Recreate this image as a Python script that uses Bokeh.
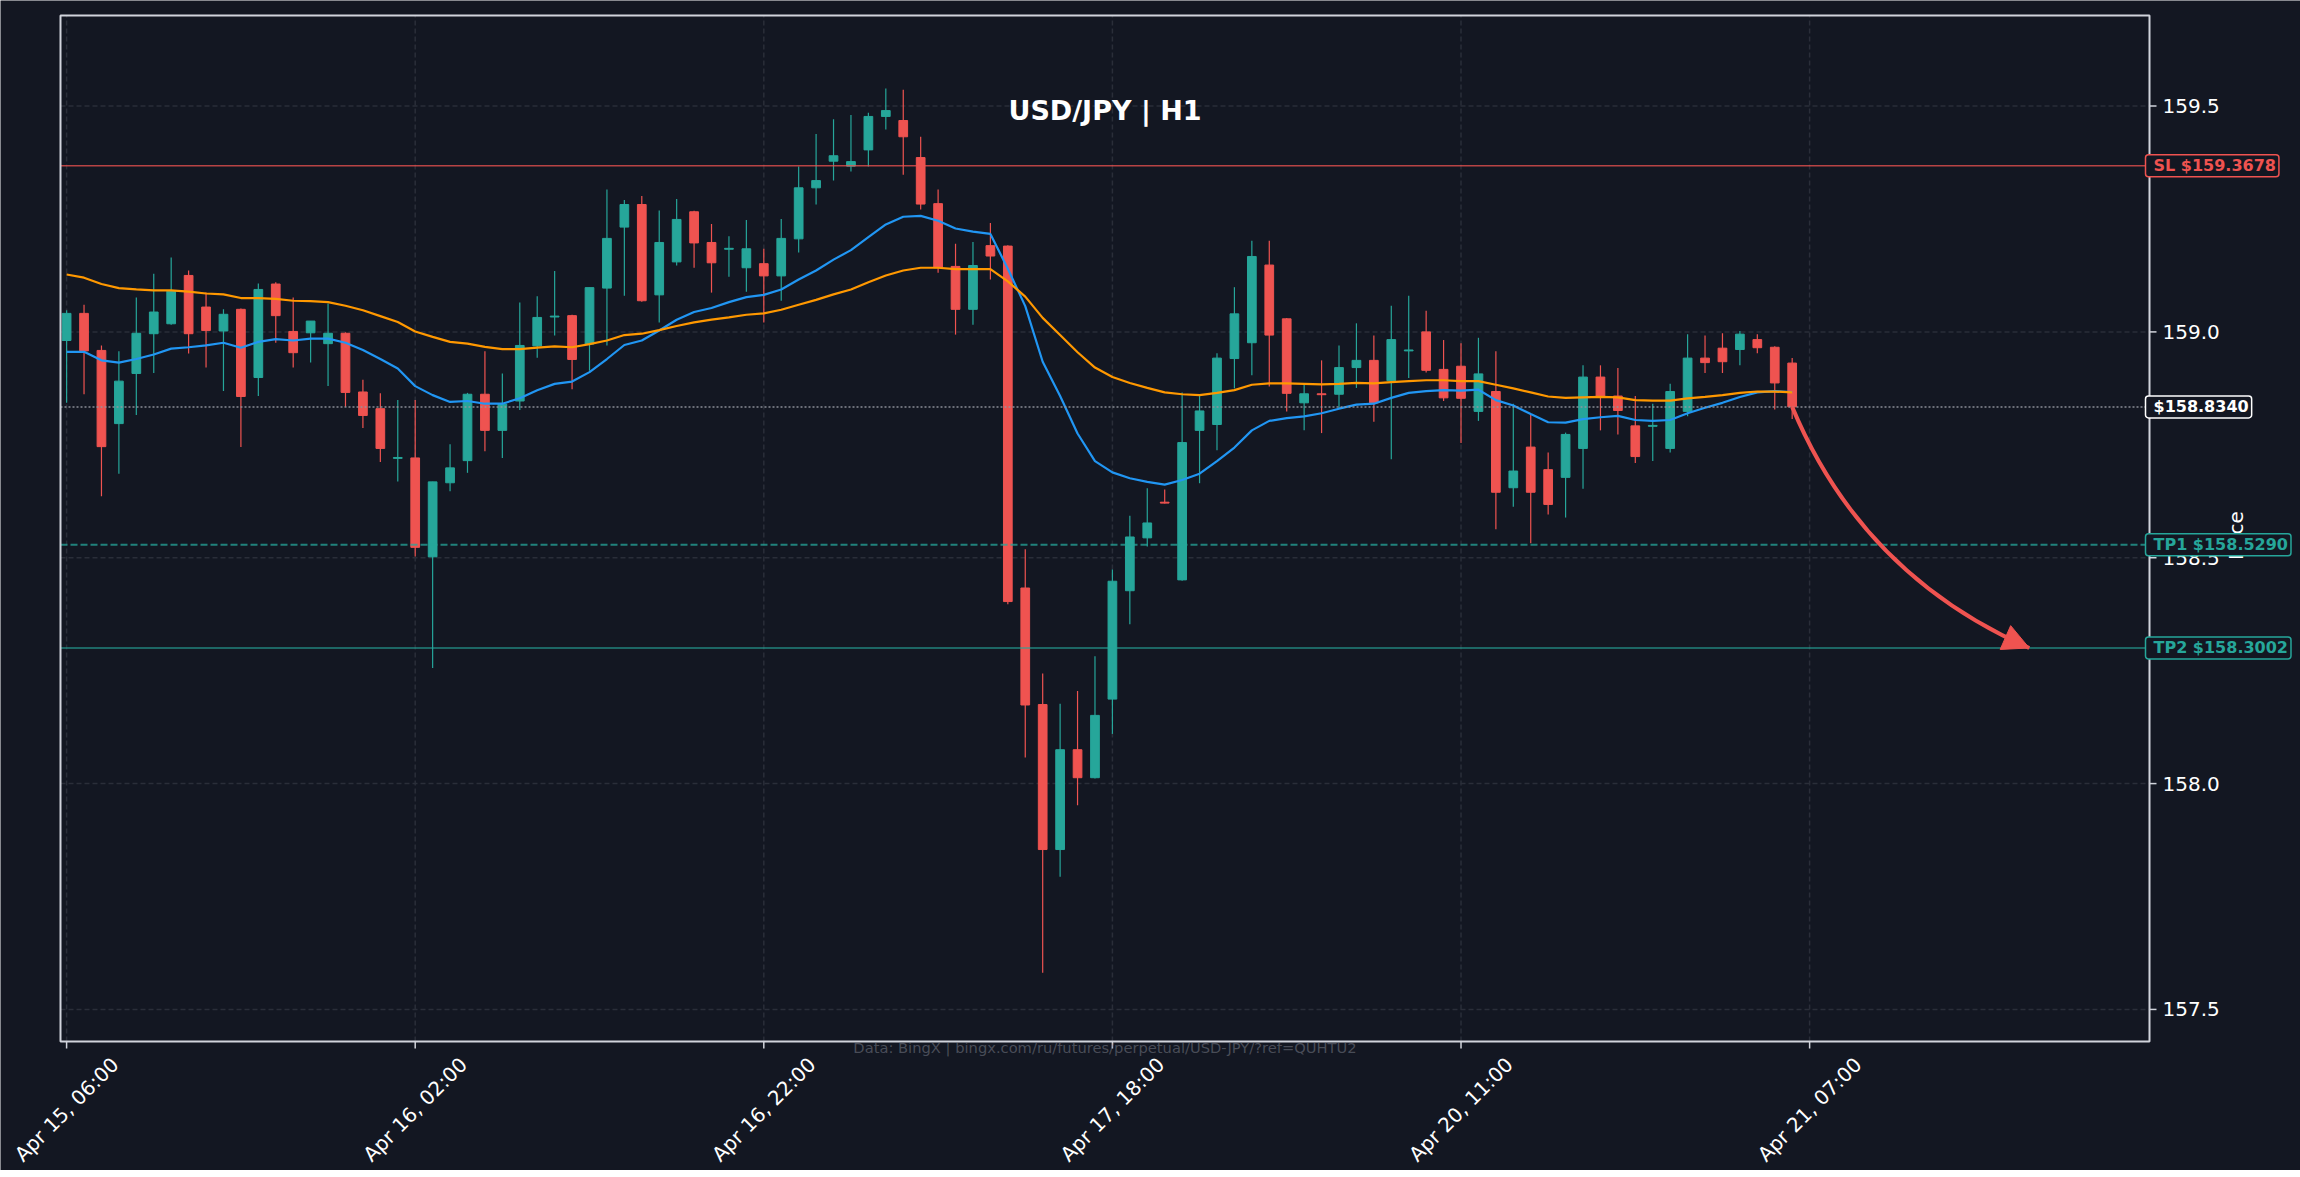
import math
from bokeh.plotting import figure
from bokeh.models import (ColumnDataSource, Range1d, Label, BoxAnnotation, Arrow, NormalHead)
from bokeh.embed import file_html
from bokeh.resources import INLINE

# ---------------- data ----------------
opens = [158.981, 159.041, 158.959, 158.797, 158.908, 158.996, 159.018, 159.125, 159.055, 159.002,
         159.050, 158.899, 159.106, 159.001, 158.998, 158.974, 158.997, 158.867, 158.830, 158.720,
         158.721, 158.502, 158.666, 158.715, 158.862, 158.782, 158.847, 158.969, 159.033, 159.036,
         158.973, 159.097, 159.232, 159.282, 159.082, 159.155, 159.266, 159.198, 159.183, 159.142,
         159.151, 159.124, 159.206, 159.319, 159.378, 159.367, 159.403, 159.477, 159.468, 159.386,
         159.284, 159.145, 159.050, 159.191, 159.190, 158.433, 158.175, 157.854, 158.075, 158.013,
         158.187, 158.427, 158.544, 158.623, 158.451, 158.782, 158.795, 158.941, 158.976, 159.148,
         159.029, 158.843, 158.863, 158.862, 158.921, 158.937, 158.892, 158.958, 159.000, 158.917,
         158.924, 158.824, 158.868, 158.655, 158.745, 158.695, 158.678, 158.742, 158.900, 158.858,
         158.792, 158.791, 158.742, 158.824, 158.942, 158.964, 158.961, 158.983, 158.966, 158.931]
highs = [159.048, 159.060, 158.970, 158.957, 159.076, 159.129, 159.165, 159.136, 159.087, 159.050,
         159.052, 159.107, 159.110, 159.076, 159.024, 159.063, 158.999, 158.894, 158.864, 158.849,
         158.849, 158.668, 158.751, 158.865, 158.957, 158.908, 159.065, 159.079, 159.135, 159.038,
         159.098, 159.315, 159.292, 159.301, 159.269, 159.294, 159.268, 159.239, 159.212, 159.248,
         159.184, 159.250, 159.366, 159.438, 159.471, 159.480, 159.485, 159.539, 159.536, 159.432,
         159.315, 159.195, 159.199, 159.241, 159.192, 158.519, 158.244, 158.177, 158.205, 158.282,
         158.474, 158.593, 158.654, 158.651, 158.866, 158.858, 158.953, 159.099, 159.202, 159.202,
         159.031, 158.883, 158.937, 158.970, 159.019, 158.992, 159.058, 159.080, 159.047, 158.982,
         158.975, 158.987, 158.957, 158.841, 158.817, 158.733, 158.777, 158.926, 158.926, 158.920,
         158.858, 158.841, 158.885, 158.995, 158.992, 158.997, 159.002, 158.995, 158.968, 158.942]
lows = [158.843, 158.862, 158.636, 158.686, 158.816, 158.909, 159.016, 158.952, 158.921, 158.869,
        158.745, 158.858, 158.976, 158.921, 158.932, 158.880, 158.834, 158.787, 158.712, 158.669,
        158.503, 158.256, 158.647, 158.688, 158.736, 158.721, 158.827, 158.943, 158.992, 158.873,
        158.914, 158.970, 159.080, 159.067, 159.021, 159.147, 159.142, 159.087, 159.122, 159.089,
        159.021, 159.069, 159.176, 159.282, 159.335, 159.355, 159.366, 159.448, 159.348, 159.271,
        159.131, 158.994, 159.016, 159.116, 158.397, 158.058, 157.581, 157.794, 157.952, 158.011,
        158.110, 158.353, 158.525, 158.620, 158.449, 158.665, 158.738, 158.875, 158.904, 158.879,
        158.824, 158.782, 158.776, 158.831, 158.876, 158.801, 158.718, 158.898, 158.910, 158.847,
        158.754, 158.803, 158.563, 158.613, 158.532, 158.596, 158.589, 158.653, 158.782, 158.773,
        158.710, 158.714, 158.733, 158.813, 158.909, 158.909, 158.926, 158.953, 158.828, 158.807]
closes = [159.041, 158.958, 158.746, 158.891, 158.997, 159.044, 159.090, 158.996, 159.003, 159.039,
          158.857, 159.094, 159.036, 158.954, 159.024, 158.997, 158.866, 158.815, 158.742, 158.722,
          158.523, 158.668, 158.699, 158.862, 158.782, 158.840, 158.970, 159.032, 159.035, 158.939,
          159.098, 159.207, 159.282, 159.069, 159.198, 159.249, 159.197, 159.153, 159.185, 159.184,
          159.124, 159.207, 159.319, 159.335, 159.390, 159.377, 159.477, 159.490, 159.432, 159.283,
          159.142, 159.050, 159.147, 159.168, 158.403, 158.174, 157.854, 158.075, 158.013, 158.151,
          158.448, 158.546, 158.577, 158.621, 158.755, 158.825, 158.942, 159.040, 159.167, 158.993,
          158.864, 158.863, 158.861, 158.921, 158.937, 158.843, 158.983, 158.960, 158.915, 158.854,
          158.853, 158.907, 158.645, 158.692, 158.645, 158.618, 158.773, 158.900, 158.858, 158.826,
          158.724, 158.793, 158.868, 158.942, 158.932, 158.934, 158.995, 158.965, 158.887, 158.834]
ma_fast = [158.956, 158.956, 158.937, 158.932, 158.940, 158.950, 158.963, 158.966, 158.970, 158.976,
           158.965, 158.978, 158.984, 158.981, 158.985, 158.985, 158.976, 158.960, 158.940, 158.919,
           158.880, 158.860, 158.845, 158.847, 158.841, 158.841, 158.853, 158.871, 158.885, 158.890,
           158.911, 158.940, 158.971, 158.981, 159.003, 159.027, 159.044, 159.053, 159.066, 159.077,
           159.082, 159.094, 159.116, 159.136, 159.160, 159.181, 159.210, 159.238, 159.255, 159.257,
           159.246, 159.229, 159.222, 159.217, 159.140, 159.057, 158.934, 158.858, 158.775, 158.714,
           158.689, 158.676, 158.668, 158.662, 158.672, 158.686, 158.714, 158.744, 158.782, 158.803,
           158.809, 158.813, 158.820, 158.830, 158.839, 158.841, 158.854, 158.865, 158.869, 158.871,
           158.870, 158.872, 158.849, 158.837, 158.818, 158.800, 158.799, 158.807, 158.811, 158.814,
           158.805, 158.803, 158.805, 158.820, 158.832, 158.843, 158.856, 158.866, 158.869, 158.867]
ma_slow = [159.127, 159.120, 159.106, 159.097, 159.094, 159.092, 159.092, 159.089, 159.085, 159.083,
           159.075, 159.075, 159.073, 159.069, 159.068, 159.066, 159.058, 159.048, 159.035, 159.022,
           159.001, 158.989, 158.978, 158.974, 158.967, 158.962, 158.962, 158.965, 158.968, 158.966,
           158.973, 158.981, 158.993, 158.996, 159.004, 159.013, 159.021, 159.027, 159.032, 159.038,
           159.041, 159.049, 159.060, 159.071, 159.083, 159.094, 159.110, 159.125, 159.136, 159.142,
           159.142, 159.139, 159.139, 159.139, 159.112, 159.078, 159.031, 158.993, 158.955, 158.921,
           158.900, 158.887, 158.876, 158.866, 158.862, 158.860, 158.865, 158.871, 158.883, 158.886,
           158.886, 158.885, 158.884, 158.885, 158.887, 158.886, 158.889, 158.891, 158.893, 158.893,
           158.891, 158.891, 158.883, 158.875, 158.866, 158.857, 158.854, 158.855, 158.856, 158.855,
           158.849, 158.848, 158.848, 158.853, 158.856, 158.860, 158.865, 158.868, 158.868, 158.866]

x_tick_pos = [0, 20, 40, 60, 80, 100]
x_tick_labels = ["Apr 15, 06:00", "Apr 16, 02:00", "Apr 16, 22:00",
                 "Apr 17, 18:00", "Apr 20, 11:00", "Apr 21, 07:00"]
y_ticks = [157.5, 158.0, 158.5, 159.0, 159.5]
y_tick_labels = ["157.5", "158.0", "158.5", "159.0", "159.5"]

sl_price = 159.3678
tp1_price = 158.5290
tp2_price = 158.3002
last_price = 158.8340

chart_title = "USD/JPY | H1"
y_label = "Price"
source_note = "Data: BingX | bingx.com/ru/futures/perpetual/USD-JPY/?ref=QUHTU2"

# ---------------- style / layout ----------------
BG = "#131722"
UP = "#26a69a"
DOWN = "#ef5350"
FG = "#d1d4dc"
GRID = "#2a2e39"
FONT = "DejaVu Sans"

W, H = 2300, 1170                      # canvas size
BOX_L, BOX_R, BOX_T, BOX_B = 60, 2149, 15, 1041   # axes box in canvas pixels
X0, X1 = -0.35, 119.5                 # data range of the axes box
Y0, Y1 = 157.429, 159.7005
sx = (X1 - X0) / (BOX_R - BOX_L)      # data units per pixel
sy = (Y1 - Y0) / (BOX_B - BOX_T)


def px_x(px):
    return X0 + (px - BOX_L) * sx


def px_y(py_):
    return Y1 - (py_ - BOX_T) * sy


p = figure(width=W, height=H,
           x_range=Range1d(px_x(0), px_x(W)), y_range=Range1d(px_y(H), px_y(0)),
           output_backend="svg", toolbar_location=None,
           background_fill_color=BG, border_fill_color=BG, min_border=0)
p.axis.visible = False
p.grid.visible = False
p.outline_line_color = None

# grid (dashed) inside the axes box
p.segment(x0=x_tick_pos, y0=[Y0] * len(x_tick_pos), x1=x_tick_pos, y1=[Y1] * len(x_tick_pos),
          line_color=GRID, line_width=1.5, line_dash="5 3")
p.segment(x0=[X0] * len(y_ticks), y0=y_ticks, x1=[X1] * len(y_ticks), y1=y_ticks,
          line_color=GRID, line_width=1.5, line_dash="5 3")

# candles
xs = list(range(len(opens)))
colors = [UP if c >= o else DOWN for o, c in zip(opens, closes)]
src = ColumnDataSource(dict(
    x=xs, o=opens, h=highs, l=lows, c=closes,
    top=[max(o, c) for o, c in zip(opens, closes)],
    bottom=[min(o, c) for o, c in zip(opens, closes)],
    color=colors))
p.segment(x0="x", y0="h", x1="x", y1="l", source=src, line_color="color", line_width=1.2)
p.vbar(x="x", width=0.5, top="top", bottom="bottom", source=src,
       fill_color="color", line_color="color", line_width=1)

# moving averages
p.line(xs, ma_fast, line_color="#2196f3", line_width=2.2)
p.line(xs, ma_slow, line_color="#ff9800", line_width=2.2)

# horizontal levels across the axes box
p.line([X0, X1], [sl_price, sl_price], line_color=DOWN, line_alpha=0.75, line_width=1.5)
p.line([X0, X1], [tp1_price, tp1_price], line_color=UP, line_alpha=0.75, line_width=2, line_dash="7 3")
p.line([X0, X1], [tp2_price, tp2_price], line_color=UP, line_alpha=0.75, line_width=1.5)
p.line([X0, X1], [last_price, last_price], line_color="#9598a1", line_alpha=0.9,
       line_width=1.5, line_dash="2 2")

# projected move arrow
ax_s, ay_s = xs[-1], closes[-1]
ax_e, ay_e = xs[-1] + 13.6, tp2_price
ax_c, ay_c = xs[-1] + 4.0, 158.463
p.quadratic(x0=[ax_s], y0=[ay_s], x1=[ax_e], y1=[ay_e], cx=[ax_c], cy=[ay_c],
            line_color=DOWN, line_width=4)
p.add_layout(Arrow(end=NormalHead(size=26, fill_color=DOWN, line_color=DOWN, line_width=1),
                   x_start=ax_e - 0.12 * (ax_e - ax_c), y_start=ay_e - 0.12 * (ay_e - ay_c),
                   x_end=ax_e, y_end=ay_e, line_color=DOWN, line_width=4))

# axes box outline
p.add_layout(BoxAnnotation(left=X0, right=X1, bottom=Y0, top=Y1, fill_alpha=0,
                           line_color=FG, line_width=2, line_alpha=1))

# tick marks (right and bottom, outward)
p.segment(x0=[X1] * len(y_ticks), y0=y_ticks, x1=[X1 + 7 * sx] * len(y_ticks), y1=y_ticks,
          line_color=FG, line_width=1.5)
p.segment(x0=x_tick_pos, y0=[Y0] * len(x_tick_pos), x1=x_tick_pos,
          y1=[Y0 - 7 * sy] * len(x_tick_pos), line_color=FG, line_width=1.5)

# y tick labels
for t, s in zip(y_ticks, y_tick_labels):
    p.add_layout(Label(x=X1 + 13 * sx, y=t, text=s, text_align="left", text_baseline="middle",
                       text_color="#ffffff", text_font=FONT, text_font_size="20px"))

# rotated x tick labels, centred under their ticks
for pos, txt in zip(x_tick_pos, x_tick_labels):
    p.add_layout(Label(x=pos, y=Y0 - 68 * sy, text=txt, angle=math.pi / 4,
                       text_align="center", text_baseline="middle", text_color="#ffffff",
                       text_font=FONT, text_font_size="20px"))

# title
p.add_layout(Label(x=(X0 + X1) / 2, y=px_y(110), text=chart_title,
                   text_align="center", text_baseline="middle", text_color="#ffffff",
                   text_font=FONT, text_font_style="bold", text_font_size="27px"))

# data source note
p.add_layout(Label(x=(X0 + X1) / 2, y=Y0 - 6 * sy, text=source_note,
                   text_align="center", text_baseline="middle", text_color="#787b86",
                   text_alpha=0.55, text_font=FONT, text_font_size="14.7px"))

# y axis label (partly hidden behind the level boxes)
p.add_layout(Label(x=px_x(2235), y=px_y(535), text=y_label, angle=math.pi / 2,
                   text_align="center", text_baseline="middle", text_color="#ffffff",
                   text_font=FONT, text_font_size="20px"))

# level boxes on the right edge
for txt, price, col in [(f"SL ${sl_price:.4f}", sl_price, DOWN),
                        (f"${last_price:.4f}", last_price, "#ffffff"),
                        (f"TP1 ${tp1_price:.4f}", tp1_price, UP),
                        (f"TP2 ${tp2_price:.4f}", tp2_price, UP)]:
    p.add_layout(Label(x=px_x(2145), y=price, text=txt,
                       text_align="left", text_baseline="middle", text_color=col,
                       text_font=FONT, text_font_style="bold", text_font_size="16px",
                       background_fill_color=BG, border_line_color=col, border_line_width=1.5,
                       padding=dict(left=8, right=3, top=1, bottom=2), border_radius=3))

open("out.html", "w").write(file_html(p, INLINE))
